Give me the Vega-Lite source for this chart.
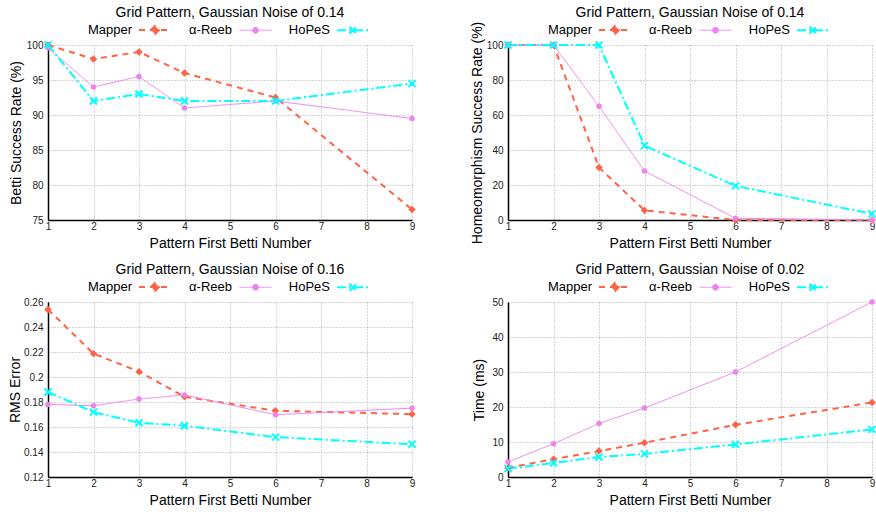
{
  "$schema": "https://vega.github.io/schema/vega-lite/v6.json",
  "background": "white",
  "padding": {"left": 8, "top": 6, "right": 0, "bottom": 0},
  "datasets": {
    "betti": [
      {"m": "Mapper", "x": 1, "y": 100}, {"m": "Mapper", "x": 2, "y": 98}, {"m": "Mapper", "x": 3, "y": 99}, {"m": "Mapper", "x": 4, "y": 96}, {"m": "Mapper", "x": 6, "y": 92.5}, {"m": "Mapper", "x": 9, "y": 76.5},
      {"m": "α-Reeb", "x": 1, "y": 99.6}, {"m": "α-Reeb", "x": 2, "y": 94}, {"m": "α-Reeb", "x": 3, "y": 95.5}, {"m": "α-Reeb", "x": 4, "y": 91}, {"m": "α-Reeb", "x": 6, "y": 92}, {"m": "α-Reeb", "x": 9, "y": 89.5},
      {"m": "HoPeS", "x": 1, "y": 100}, {"m": "HoPeS", "x": 2, "y": 92}, {"m": "HoPeS", "x": 3, "y": 93}, {"m": "HoPeS", "x": 4, "y": 92}, {"m": "HoPeS", "x": 6, "y": 92}, {"m": "HoPeS", "x": 9, "y": 94.5}
    ],
    "homeo": [
      {"m": "Mapper", "x": 1, "y": 100}, {"m": "Mapper", "x": 2, "y": 100}, {"m": "Mapper", "x": 3, "y": 30}, {"m": "Mapper", "x": 4, "y": 5.5}, {"m": "Mapper", "x": 6, "y": 0}, {"m": "Mapper", "x": 9, "y": 0},
      {"m": "α-Reeb", "x": 1, "y": 100}, {"m": "α-Reeb", "x": 2, "y": 100}, {"m": "α-Reeb", "x": 3, "y": 65}, {"m": "α-Reeb", "x": 4, "y": 28}, {"m": "α-Reeb", "x": 6, "y": 1}, {"m": "α-Reeb", "x": 9, "y": 0},
      {"m": "HoPeS", "x": 1, "y": 100}, {"m": "HoPeS", "x": 2, "y": 100}, {"m": "HoPeS", "x": 3, "y": 100}, {"m": "HoPeS", "x": 4, "y": 42.5}, {"m": "HoPeS", "x": 6, "y": 19.5}, {"m": "HoPeS", "x": 9, "y": 3.5}
    ],
    "rms": [
      {"m": "Mapper", "x": 1, "y": 0.254}, {"m": "Mapper", "x": 2, "y": 0.2187}, {"m": "Mapper", "x": 3, "y": 0.2043}, {"m": "Mapper", "x": 4, "y": 0.1842}, {"m": "Mapper", "x": 6, "y": 0.173}, {"m": "Mapper", "x": 9, "y": 0.1703},
      {"m": "α-Reeb", "x": 1, "y": 0.1781}, {"m": "α-Reeb", "x": 2, "y": 0.177}, {"m": "α-Reeb", "x": 3, "y": 0.1824}, {"m": "α-Reeb", "x": 4, "y": 0.1856}, {"m": "α-Reeb", "x": 6, "y": 0.1698}, {"m": "α-Reeb", "x": 9, "y": 0.1751},
      {"m": "HoPeS", "x": 1, "y": 0.188}, {"m": "HoPeS", "x": 2, "y": 0.1719}, {"m": "HoPeS", "x": 3, "y": 0.1634}, {"m": "HoPeS", "x": 4, "y": 0.161}, {"m": "HoPeS", "x": 6, "y": 0.1519}, {"m": "HoPeS", "x": 9, "y": 0.1462}
    ],
    "time": [
      {"m": "Mapper", "x": 1, "y": 2.6}, {"m": "Mapper", "x": 2, "y": 5.1}, {"m": "Mapper", "x": 3, "y": 7.4}, {"m": "Mapper", "x": 4, "y": 9.8}, {"m": "Mapper", "x": 6, "y": 14.9}, {"m": "Mapper", "x": 9, "y": 21.3},
      {"m": "α-Reeb", "x": 1, "y": 4.3}, {"m": "α-Reeb", "x": 2, "y": 9.5}, {"m": "α-Reeb", "x": 3, "y": 15.3}, {"m": "α-Reeb", "x": 4, "y": 19.7}, {"m": "α-Reeb", "x": 6, "y": 30}, {"m": "α-Reeb", "x": 9, "y": 50},
      {"m": "HoPeS", "x": 1, "y": 2.4}, {"m": "HoPeS", "x": 2, "y": 4}, {"m": "HoPeS", "x": 3, "y": 5.7}, {"m": "HoPeS", "x": 4, "y": 6.6}, {"m": "HoPeS", "x": 6, "y": 9.3}, {"m": "HoPeS", "x": 9, "y": 13.6}
    ]
  },
  "config": {
    "font": "Liberation Sans",
    "view": {"stroke": null},
    "axis": {
      "labelFont": "Liberation Sans", "labelFontSize": 10, "labelColor": "#222",
      "titleFont": "Liberation Sans", "titleFontSize": 14, "titleFontWeight": "normal", "titleColor": "#000",
      "domainColor": "#000", "domainWidth": 1.5, "ticks": false, "labelPadding": 5,
      "gridColor": "#aaa", "gridDash": [1, 2], "gridWidth": 1, "labelFlush": false, "labelOverlap": false
    },
    "axisX": {"labelPadding": 1, "titlePadding": 5},
    "title": {"font": "Liberation Sans", "fontSize": 14, "fontWeight": "normal", "color": "#000", "anchor": "middle", "frame": "group", "offset": -7},
    "legend": {
      "labelFont": "Liberation Sans", "labelFontSize": 13, "labelColor": "#000", "labelAlign": "right", "labelOffset": -40,
      "symbolSize": 1024, "columnPadding": 14, "padding": 0, "labelLimit": 200, "symbolStrokeWidth": 2, "symbolOpacity": 1
    }
  },
  "columns": 2,
  "spacing": {"column": 96, "row": 82},
  "bounds": "flush",
  "resolve": {
    "scale": {"x": "independent", "y": "independent", "color": "independent", "strokeDash": "independent", "shape": "independent", "fill": "independent", "strokeWidth": "independent"},
    "legend": {"color": "independent", "strokeDash": "independent", "shape": "independent", "fill": "independent", "strokeWidth": "independent"}
  },
  "concat": [
    {
      "width": 364, "height": 175,
      "title": "Grid Pattern, Gaussian Noise of 0.14",
      "data": {"name": "betti"},
      "encoding": {
        "x": {"field": "x", "type": "quantitative", "scale": {"domain": [1, 9], "nice": false}, "axis": {"title": "Pattern First Betti Number", "values": [1, 2, 3, 4, 5, 6, 7, 8, 9], "format": "d"}},
        "y": {"field": "y", "type": "quantitative", "scale": {"domain": [75, 100], "nice": false, "zero": false}, "axis": {"title": "Betti Success Rate (%)", "values": [75, 80, 85, 90, 95, 100], "format": "d", "titlePadding": 3}}
      },
      "layer": [
        {
          "mark": {"type": "line", "clip": false},
          "encoding": {
            "color": {"field": "m", "type": "nominal", "scale": {"domain": ["Mapper", "α-Reeb", "HoPeS"], "range": ["#ff6347", "#ee82ee", "#00ffff"]},
              "legend": {"title": null, "orient": "none", "legendX": 90, "legendY": -32, "direction": "horizontal"}},
            "strokeDash": {"field": "m", "type": "nominal", "scale": {"domain": ["Mapper", "α-Reeb", "HoPeS"], "range": [[6, 5], [1, 0], [9, 3, 2, 3]]},
              "legend": {"title": null, "orient": "none", "legendX": 90, "legendY": -32, "direction": "horizontal"}},
            "strokeWidth": {"field": "m", "type": "nominal", "scale": {"type": "ordinal", "domain": ["Mapper", "α-Reeb", "HoPeS"], "range": [2, 1, 2]},
              "legend": {"title": null, "orient": "none", "legendX": 90, "legendY": -32, "direction": "horizontal"}}
          }
        },
        {
          "mark": {"type": "point", "opacity": 0, "filled": true},
          "encoding": {
            "shape": {"field": "m", "type": "nominal", "scale": {"domain": ["Mapper", "α-Reeb", "HoPeS"], "range": ["M-1,0H1M-0.25,0L0,-0.25L0.25,0L0,0.25Z", "M-1,0H1M-0.18,0A0.18,0.18,0,1,0,0.18,0A0.18,0.18,0,1,0,-0.18,0Z", "M-1,0H1M-0.22,-0.22L0.22,0.22M-0.22,0.22L0.22,-0.22"]},
              "legend": {"title": null, "orient": "none", "legendX": 90, "legendY": -32, "direction": "horizontal"}},
            "fill": {"field": "m", "type": "nominal", "scale": {"domain": ["Mapper", "α-Reeb", "HoPeS"], "range": ["#ff6347", "#ee82ee", "transparent"]},
              "legend": {"title": null, "orient": "none", "legendX": 90, "legendY": -32, "direction": "horizontal"}}
          }
        },
        {"transform": [{"filter": "datum.m === 'Mapper'"}], "mark": {"type": "point", "shape": "diamond", "filled": true, "color": "#ff6347", "size": 56, "opacity": 1, "clip": false}},
        {"transform": [{"filter": "datum.m === 'α-Reeb'"}], "mark": {"type": "point", "shape": "circle", "filled": true, "color": "#ee82ee", "size": 30, "opacity": 1, "clip": false}},
        {"transform": [{"filter": "datum.m === 'HoPeS'"}], "mark": {"type": "point", "shape": "M-1,-1L1,1M-1,1L1,-1", "filled": false, "color": "#00ffff", "strokeWidth": 2, "size": 49, "opacity": 1, "clip": false}}
      ]
    },
    {
      "width": 364, "height": 175,
      "title": "Grid Pattern, Gaussian Noise of 0.14",
      "data": {"name": "homeo"},
      "encoding": {
        "x": {"field": "x", "type": "quantitative", "scale": {"domain": [1, 9], "nice": false}, "axis": {"title": "Pattern First Betti Number", "values": [1, 2, 3, 4, 5, 6, 7, 8, 9], "format": "d"}},
        "y": {"field": "y", "type": "quantitative", "scale": {"domain": [0, 100], "nice": false}, "axis": {"title": "Homeomorphism Success Rate (%)", "values": [0, 20, 40, 60, 80, 100], "format": "d", "titlePadding": 2}}
      },
      "layer": [
        {
          "mark": {"type": "line", "clip": false},
          "encoding": {
            "color": {"field": "m", "type": "nominal", "scale": {"domain": ["Mapper", "α-Reeb", "HoPeS"], "range": ["#ff6347", "#ee82ee", "#00ffff"]},
              "legend": {"title": null, "orient": "none", "legendX": 90, "legendY": -32, "direction": "horizontal"}},
            "strokeDash": {"field": "m", "type": "nominal", "scale": {"domain": ["Mapper", "α-Reeb", "HoPeS"], "range": [[6, 5], [1, 0], [9, 3, 2, 3]]},
              "legend": {"title": null, "orient": "none", "legendX": 90, "legendY": -32, "direction": "horizontal"}},
            "strokeWidth": {"field": "m", "type": "nominal", "scale": {"type": "ordinal", "domain": ["Mapper", "α-Reeb", "HoPeS"], "range": [2, 1, 2]},
              "legend": {"title": null, "orient": "none", "legendX": 90, "legendY": -32, "direction": "horizontal"}}
          }
        },
        {
          "mark": {"type": "point", "opacity": 0, "filled": true},
          "encoding": {
            "shape": {"field": "m", "type": "nominal", "scale": {"domain": ["Mapper", "α-Reeb", "HoPeS"], "range": ["M-1,0H1M-0.25,0L0,-0.25L0.25,0L0,0.25Z", "M-1,0H1M-0.18,0A0.18,0.18,0,1,0,0.18,0A0.18,0.18,0,1,0,-0.18,0Z", "M-1,0H1M-0.22,-0.22L0.22,0.22M-0.22,0.22L0.22,-0.22"]},
              "legend": {"title": null, "orient": "none", "legendX": 90, "legendY": -32, "direction": "horizontal"}},
            "fill": {"field": "m", "type": "nominal", "scale": {"domain": ["Mapper", "α-Reeb", "HoPeS"], "range": ["#ff6347", "#ee82ee", "transparent"]},
              "legend": {"title": null, "orient": "none", "legendX": 90, "legendY": -32, "direction": "horizontal"}}
          }
        },
        {"transform": [{"filter": "datum.m === 'Mapper'"}], "mark": {"type": "point", "shape": "diamond", "filled": true, "color": "#ff6347", "size": 56, "opacity": 1, "clip": false}},
        {"transform": [{"filter": "datum.m === 'α-Reeb'"}], "mark": {"type": "point", "shape": "circle", "filled": true, "color": "#ee82ee", "size": 30, "opacity": 1, "clip": false}},
        {"transform": [{"filter": "datum.m === 'HoPeS'"}], "mark": {"type": "point", "shape": "M-1,-1L1,1M-1,1L1,-1", "filled": false, "color": "#00ffff", "strokeWidth": 2, "size": 49, "opacity": 1, "clip": false}}
      ]
    },
    {
      "width": 364, "height": 175,
      "title": "Grid Pattern, Gaussian Noise of 0.16",
      "data": {"name": "rms"},
      "encoding": {
        "x": {"field": "x", "type": "quantitative", "scale": {"domain": [1, 9], "nice": false}, "axis": {"title": "Pattern First Betti Number", "values": [1, 2, 3, 4, 5, 6, 7, 8, 9], "format": "d"}},
        "y": {"field": "y", "type": "quantitative", "scale": {"domain": [0.12, 0.26], "nice": false, "zero": false}, "axis": {"title": "RMS Error", "values": [0.12, 0.14, 0.16, 0.18, 0.2, 0.22, 0.24, 0.26], "format": ".2~f", "titlePadding": 1}}
      },
      "layer": [
        {
          "mark": {"type": "line", "clip": false},
          "encoding": {
            "color": {"field": "m", "type": "nominal", "scale": {"domain": ["Mapper", "α-Reeb", "HoPeS"], "range": ["#ff6347", "#ee82ee", "#00ffff"]},
              "legend": {"title": null, "orient": "none", "legendX": 90, "legendY": -32, "direction": "horizontal"}},
            "strokeDash": {"field": "m", "type": "nominal", "scale": {"domain": ["Mapper", "α-Reeb", "HoPeS"], "range": [[6, 5], [1, 0], [9, 3, 2, 3]]},
              "legend": {"title": null, "orient": "none", "legendX": 90, "legendY": -32, "direction": "horizontal"}},
            "strokeWidth": {"field": "m", "type": "nominal", "scale": {"type": "ordinal", "domain": ["Mapper", "α-Reeb", "HoPeS"], "range": [2, 1, 2]},
              "legend": {"title": null, "orient": "none", "legendX": 90, "legendY": -32, "direction": "horizontal"}}
          }
        },
        {
          "mark": {"type": "point", "opacity": 0, "filled": true},
          "encoding": {
            "shape": {"field": "m", "type": "nominal", "scale": {"domain": ["Mapper", "α-Reeb", "HoPeS"], "range": ["M-1,0H1M-0.25,0L0,-0.25L0.25,0L0,0.25Z", "M-1,0H1M-0.18,0A0.18,0.18,0,1,0,0.18,0A0.18,0.18,0,1,0,-0.18,0Z", "M-1,0H1M-0.22,-0.22L0.22,0.22M-0.22,0.22L0.22,-0.22"]},
              "legend": {"title": null, "orient": "none", "legendX": 90, "legendY": -32, "direction": "horizontal"}},
            "fill": {"field": "m", "type": "nominal", "scale": {"domain": ["Mapper", "α-Reeb", "HoPeS"], "range": ["#ff6347", "#ee82ee", "transparent"]},
              "legend": {"title": null, "orient": "none", "legendX": 90, "legendY": -32, "direction": "horizontal"}}
          }
        },
        {"transform": [{"filter": "datum.m === 'Mapper'"}], "mark": {"type": "point", "shape": "diamond", "filled": true, "color": "#ff6347", "size": 56, "opacity": 1, "clip": false}},
        {"transform": [{"filter": "datum.m === 'α-Reeb'"}], "mark": {"type": "point", "shape": "circle", "filled": true, "color": "#ee82ee", "size": 30, "opacity": 1, "clip": false}},
        {"transform": [{"filter": "datum.m === 'HoPeS'"}], "mark": {"type": "point", "shape": "M-1,-1L1,1M-1,1L1,-1", "filled": false, "color": "#00ffff", "strokeWidth": 2, "size": 49, "opacity": 1, "clip": false}}
      ]
    },
    {
      "width": 364, "height": 175,
      "title": "Grid Pattern, Gaussian Noise of 0.02",
      "data": {"name": "time"},
      "encoding": {
        "x": {"field": "x", "type": "quantitative", "scale": {"domain": [1, 9], "nice": false}, "axis": {"title": "Pattern First Betti Number", "values": [1, 2, 3, 4, 5, 6, 7, 8, 9], "format": "d"}},
        "y": {"field": "y", "type": "quantitative", "scale": {"domain": [0, 50], "nice": false}, "axis": {"title": "Time (ms)", "values": [0, 10, 20, 30, 40, 50], "format": "d", "titlePadding": 5}}
      },
      "layer": [
        {
          "mark": {"type": "line", "clip": false},
          "encoding": {
            "color": {"field": "m", "type": "nominal", "scale": {"domain": ["Mapper", "α-Reeb", "HoPeS"], "range": ["#ff6347", "#ee82ee", "#00ffff"]},
              "legend": {"title": null, "orient": "none", "legendX": 90, "legendY": -32, "direction": "horizontal"}},
            "strokeDash": {"field": "m", "type": "nominal", "scale": {"domain": ["Mapper", "α-Reeb", "HoPeS"], "range": [[6, 5], [1, 0], [9, 3, 2, 3]]},
              "legend": {"title": null, "orient": "none", "legendX": 90, "legendY": -32, "direction": "horizontal"}},
            "strokeWidth": {"field": "m", "type": "nominal", "scale": {"type": "ordinal", "domain": ["Mapper", "α-Reeb", "HoPeS"], "range": [2, 1, 2]},
              "legend": {"title": null, "orient": "none", "legendX": 90, "legendY": -32, "direction": "horizontal"}}
          }
        },
        {
          "mark": {"type": "point", "opacity": 0, "filled": true},
          "encoding": {
            "shape": {"field": "m", "type": "nominal", "scale": {"domain": ["Mapper", "α-Reeb", "HoPeS"], "range": ["M-1,0H1M-0.25,0L0,-0.25L0.25,0L0,0.25Z", "M-1,0H1M-0.18,0A0.18,0.18,0,1,0,0.18,0A0.18,0.18,0,1,0,-0.18,0Z", "M-1,0H1M-0.22,-0.22L0.22,0.22M-0.22,0.22L0.22,-0.22"]},
              "legend": {"title": null, "orient": "none", "legendX": 90, "legendY": -32, "direction": "horizontal"}},
            "fill": {"field": "m", "type": "nominal", "scale": {"domain": ["Mapper", "α-Reeb", "HoPeS"], "range": ["#ff6347", "#ee82ee", "transparent"]},
              "legend": {"title": null, "orient": "none", "legendX": 90, "legendY": -32, "direction": "horizontal"}}
          }
        },
        {"transform": [{"filter": "datum.m === 'Mapper'"}], "mark": {"type": "point", "shape": "diamond", "filled": true, "color": "#ff6347", "size": 56, "opacity": 1, "clip": false}},
        {"transform": [{"filter": "datum.m === 'α-Reeb'"}], "mark": {"type": "point", "shape": "circle", "filled": true, "color": "#ee82ee", "size": 30, "opacity": 1, "clip": false}},
        {"transform": [{"filter": "datum.m === 'HoPeS'"}], "mark": {"type": "point", "shape": "M-1,-1L1,1M-1,1L1,-1", "filled": false, "color": "#00ffff", "strokeWidth": 2, "size": 49, "opacity": 1, "clip": false}}
      ]
    }
  ]
}
